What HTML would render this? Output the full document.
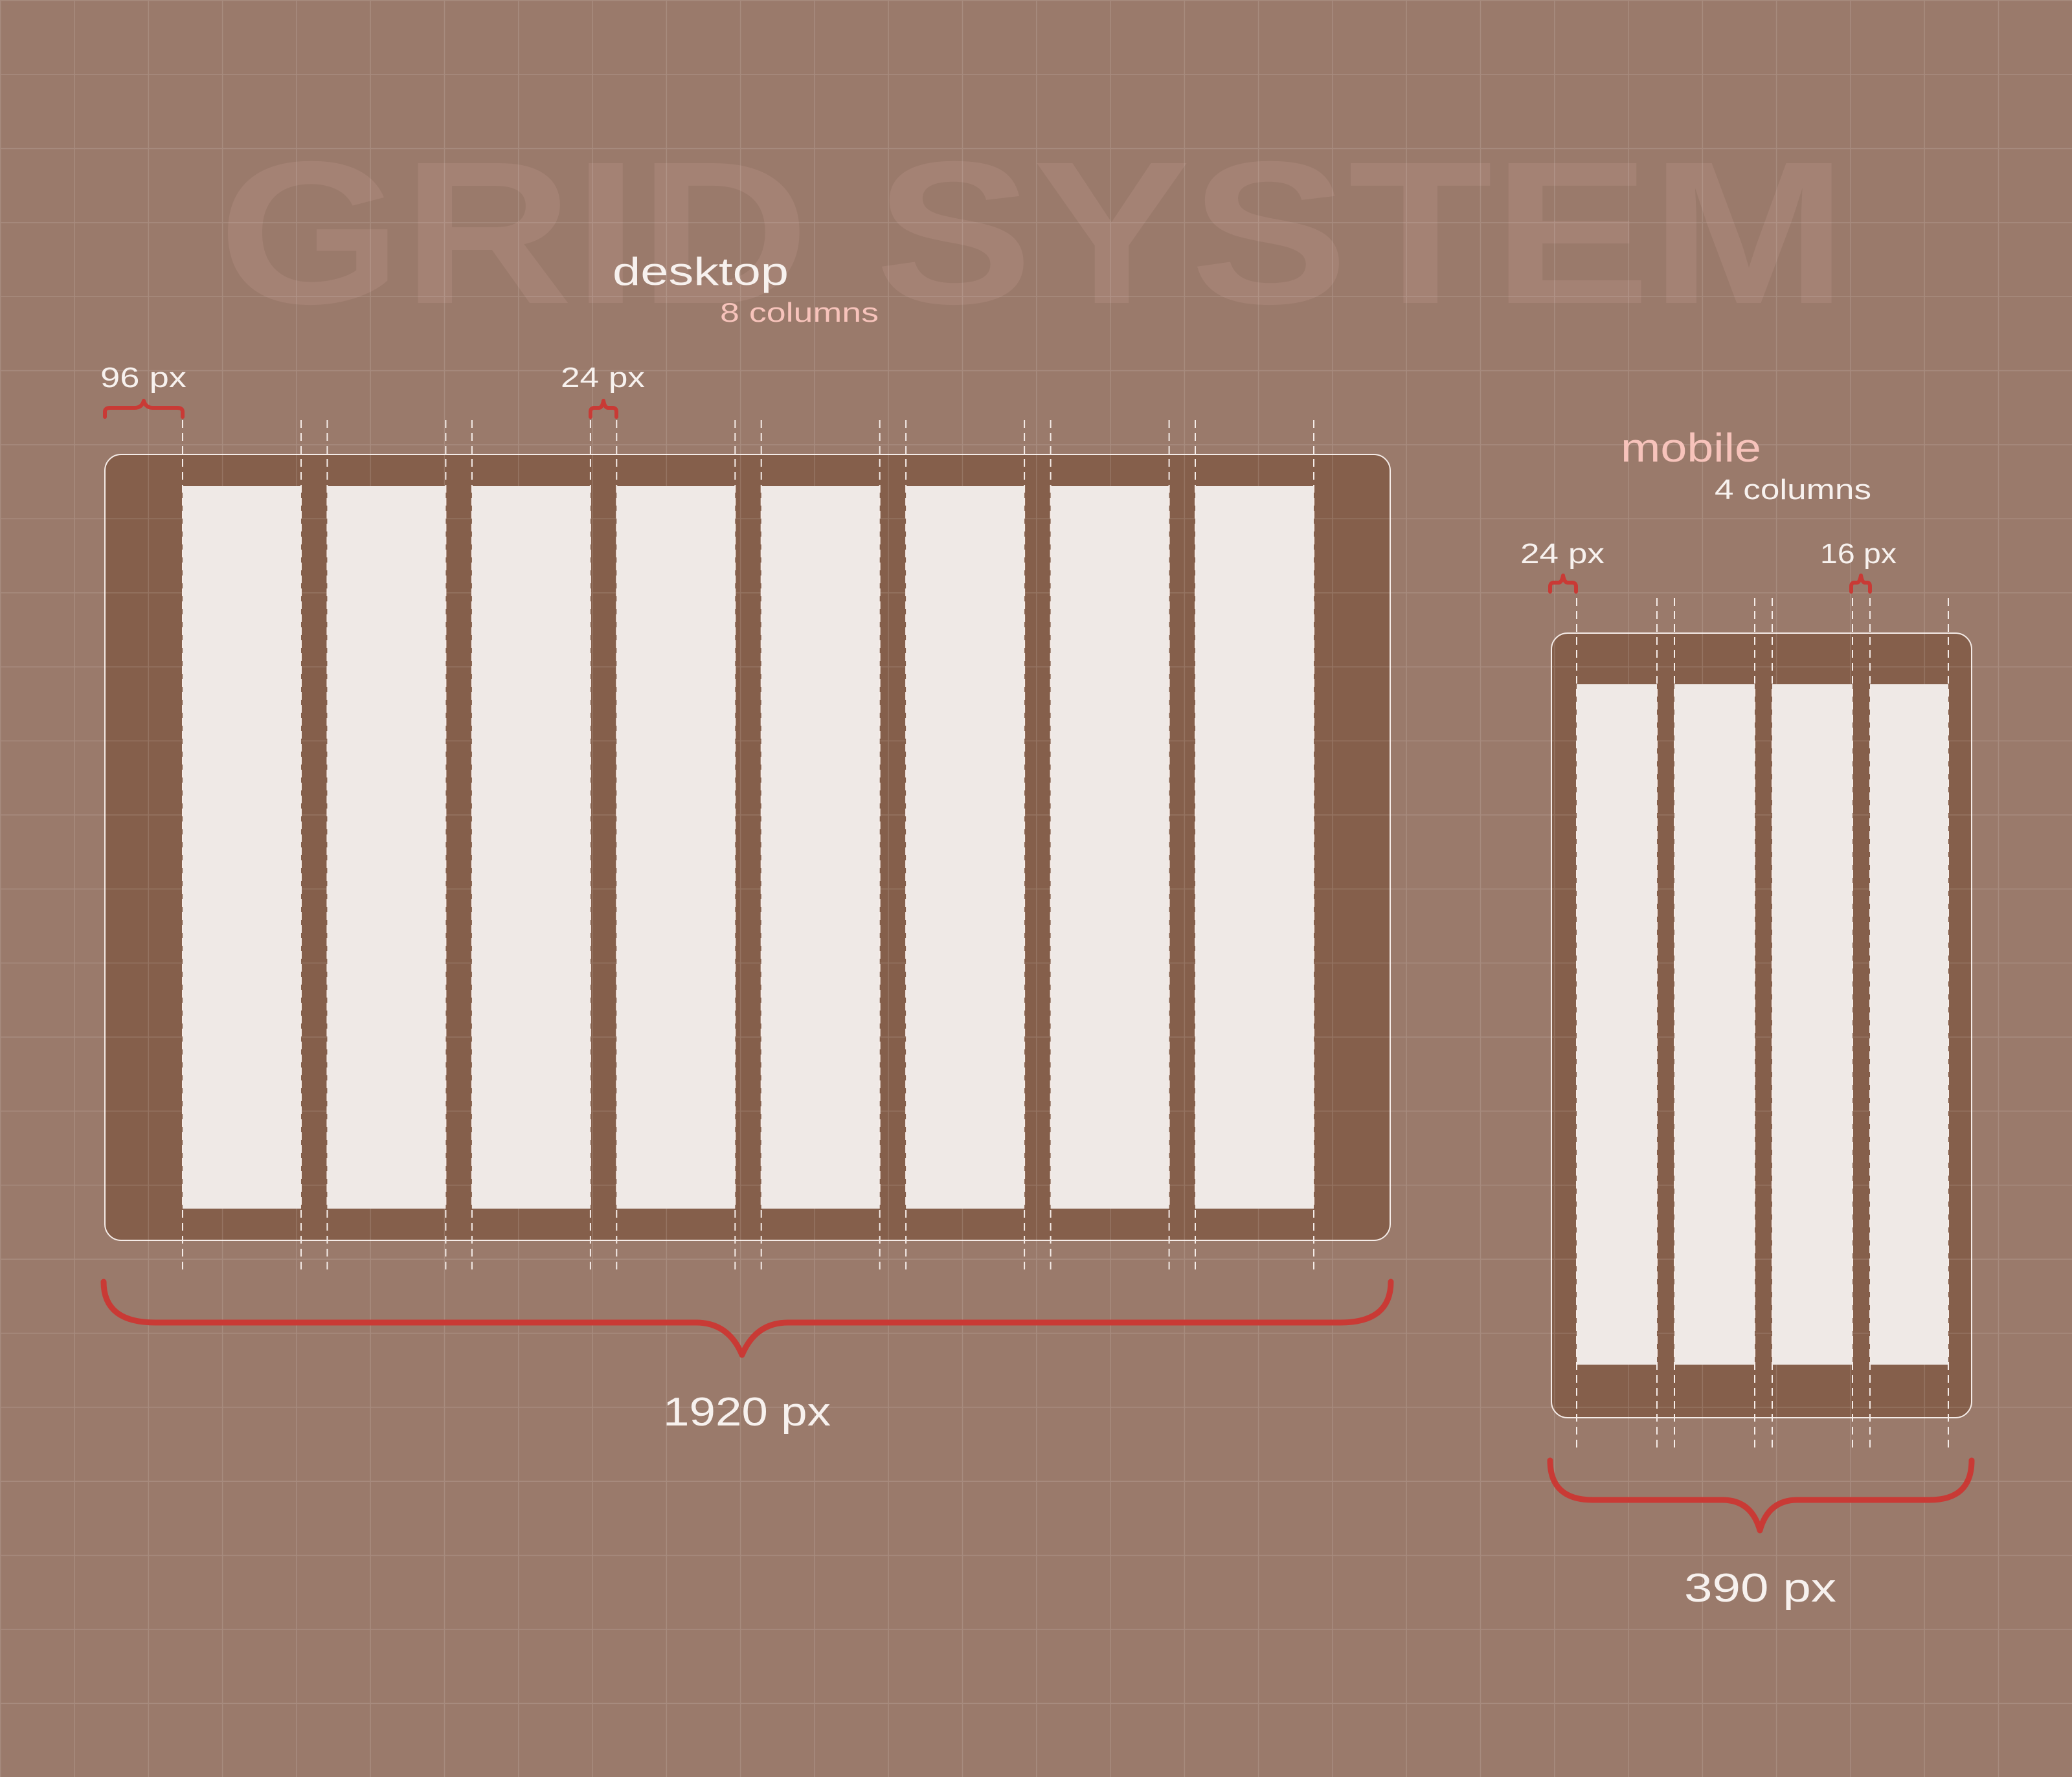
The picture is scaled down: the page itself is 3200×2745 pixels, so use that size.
<!DOCTYPE html>
<html><head><meta charset="utf-8"><style>
html,body{margin:0;padding:0;background:#9a7a6b;}
svg{display:block;}
text{font-family:"Liberation Sans",sans-serif;}
</style></head><body>
<svg width="3200" height="2745" viewBox="0 0 3200 2745" xmlns="http://www.w3.org/2000/svg">
<defs>
<pattern id="g" x="0" y="0" width="114.2857" height="114.375" patternUnits="userSpaceOnUse">
<path d="M0 0 V114.375 M0 0 H114.2857" stroke="#ffffff" stroke-opacity="0.13" stroke-width="3" fill="none"/>
</pattern>
</defs>
<rect width="3200" height="2745" fill="#9a7a6b"/>
<text x="337" y="468" font-size="314" font-weight="bold" fill="#a48274" textLength="2516" lengthAdjust="spacingAndGlyphs">GRID SYSTEM</text>

<rect x="162" y="702" width="1985" height="1214" rx="25" fill="#855f4b" stroke="#f5ece8" stroke-width="2"/>
<rect x="2396" y="978" width="649" height="1212" rx="25" fill="#855f4b" stroke="#f5ece8" stroke-width="2"/>

<rect width="3200" height="2745" fill="url(#g)"/>

<g fill="#efe9e6">
<rect x="282" y="751" width="183" height="1116"/>
<rect x="505.4" y="751" width="183" height="1116"/>
<rect x="728.9" y="751" width="183" height="1116"/>
<rect x="952.3" y="751" width="183" height="1116"/>
<rect x="1175.7" y="751" width="183" height="1116"/>
<rect x="1399.1" y="751" width="183" height="1116"/>
<rect x="1622.6" y="751" width="183" height="1116"/>
<rect x="1846" y="751" width="183" height="1116"/>
<rect x="2435" y="1057" width="124" height="1051"/>
<rect x="2586" y="1057" width="124" height="1051"/>
<rect x="2737" y="1057" width="124" height="1051"/>
<rect x="2888" y="1057" width="121" height="1051"/>
</g>

<g stroke="#f5ece8" stroke-width="2" stroke-dasharray="12,8" fill="none">
<path d="M282 649V1969 M465 649V1969 M505.4 649V1969 M688.4 649V1969 M728.9 649V1969 M911.9 649V1969 M952.3 649V1969 M1135.3 649V1969 M1175.7 649V1969 M1358.7 649V1969 M1399.1 649V1969 M1582.1 649V1969 M1622.6 649V1969 M1805.6 649V1969 M1846 649V1969 M2029 649V1969"/>
<path d="M2435 924V2241 M2559 924V2241 M2586 924V2241 M2710 924V2241 M2737 924V2241 M2861 924V2241 M2888 924V2241 M3009 924V2241"/>
</g>

<g stroke="#c93a35" stroke-width="9" fill="none" stroke-linecap="round" stroke-linejoin="round">
<path d="M160 1980 Q160 2043 240 2043 L1075 2043 Q1125 2043 1146 2093 Q1167 2043 1217 2043 L2070 2043 Q2148 2043 2148 1980"/>
<path d="M2394 2256 Q2394 2317 2460 2317 L2660 2317 Q2705 2317 2718 2364 Q2731 2317 2776 2317 L2980 2317 Q3045 2317 3045 2256"/>
</g>
<g stroke="#c93a35" stroke-width="6" fill="none" stroke-linecap="round" stroke-linejoin="round">
<path d="M162 644 L162 636 Q162 630 170 630 L208 630 Q219 630 222 619 Q225 630 236 630 L274 630 Q282 630 282 636 L282 644"/>
<path d="M912 644 L912 636 Q912 630 918 630 L925 630 Q930 630 932 619 Q934 630 939 630 L946 630 Q952 630 952 636 L952 644"/>
<path d="M2394 914 L2394 906 Q2394 900 2400 900 L2407 900 Q2412 900 2414 889 Q2416 900 2421 900 L2428 900 Q2434 900 2434 906 L2434 914"/>
<path d="M2859 914 L2859 906 Q2859 900 2864 900 L2868 900 Q2872 900 2874 889 Q2876 900 2880 900 L2884 900 Q2888 900 2888 906 L2888 914"/>
</g>

<g fill="#f7f1ee">
<text x="946" y="440" font-size="60" textLength="272" lengthAdjust="spacingAndGlyphs">desktop</text>
<text x="155" y="598" font-size="44" textLength="133" lengthAdjust="spacingAndGlyphs">96 px</text>
<text x="866" y="598" font-size="44" textLength="130" lengthAdjust="spacingAndGlyphs">24 px</text>
<text x="1024" y="2202" font-size="62" textLength="259" lengthAdjust="spacingAndGlyphs">1920 px</text>
<text x="2648" y="771" font-size="44" textLength="242" lengthAdjust="spacingAndGlyphs">4 columns</text>
<text x="2348" y="870" font-size="44" textLength="130" lengthAdjust="spacingAndGlyphs">24 px</text>
<text x="2811" y="870" font-size="44" textLength="118" lengthAdjust="spacingAndGlyphs">16 px</text>
<text x="2601" y="2474" font-size="62" textLength="235" lengthAdjust="spacingAndGlyphs">390 px</text>
</g>
<g fill="#f7c3bb">
<text x="1112" y="497" font-size="42" textLength="245" lengthAdjust="spacingAndGlyphs">8 columns</text>
<text x="2503" y="713" font-size="62" textLength="217" lengthAdjust="spacingAndGlyphs">mobile</text>
</g>
</svg>
</body></html>
